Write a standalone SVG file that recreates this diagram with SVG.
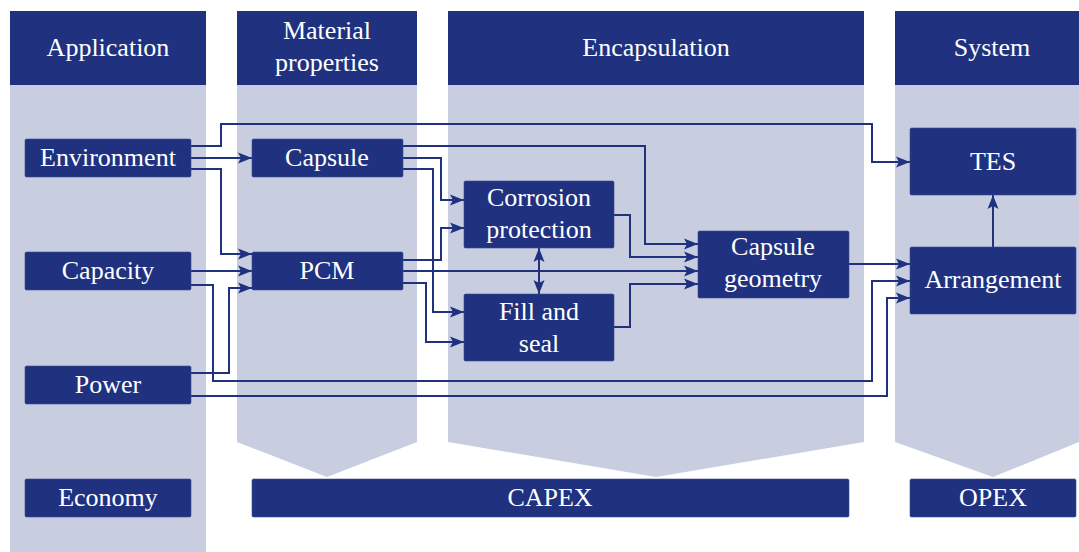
<svg xmlns="http://www.w3.org/2000/svg" width="1079" height="552" viewBox="0 0 1079 552" font-family="Liberation Serif, DejaVu Serif, serif">
<style>
.bg{fill:#c8cee0}
.hd{fill:#20327f}
.nd{fill:#20327f;stroke:#3a4b92;stroke-width:0.6}
.t{font-size:26px;fill:#ffffff;text-anchor:middle}
.c{fill:none;stroke:#20327f;stroke-width:2}
</style>
<defs>
<marker id="ah" markerUnits="userSpaceOnUse" markerWidth="16" markerHeight="14" refX="14" refY="6" orient="auto">
<path d="M0,0.5 L14,6 L0,11.5 L3,6 z" fill="#20327f"/>
</marker>
<marker id="as" markerUnits="userSpaceOnUse" markerWidth="16" markerHeight="14" refX="14" refY="6" orient="auto-start-reverse">
<path d="M0,0.5 L14,6 L0,11.5 L3,6 z" fill="#20327f"/>
</marker>
</defs>
<rect width="1079" height="552" fill="#ffffff"/>
<g id="columns">
<rect class="bg" x="10" y="85" width="196" height="467"/>
<polygon class="bg" points="237,85 417,85 417,442 327,477 237,442"/>
<polygon class="bg" points="448,85 864,85 864,442 656,477 448,442"/>
<polygon class="bg" points="895,85 1079,85 1079,442 993,477 895,442"/>
</g>
<g id="header-application"><rect class="hd" x="10" y="11" width="196" height="74"/><text class="t" x="108" y="56">Application</text></g>
<g id="header-material"><rect class="hd" x="237" y="11" width="180" height="74"/><text class="t" x="327" y="39">Material</text><text class="t" x="327" y="71">properties</text></g>
<g id="header-encapsulation"><rect class="hd" x="448" y="11" width="416" height="74"/><text class="t" x="656" y="56">Encapsulation</text></g>
<g id="header-system"><rect class="hd" x="895" y="11" width="184" height="74"/><text class="t" x="992" y="56">System</text></g>
<g id="connectors">
<path class="c" d="M191,146 H221 V124 H872 V162 H910" marker-end="url(#ah)"/>
<path class="c" d="M191,158 H252" marker-end="url(#ah)"/>
<path class="c" d="M191,169 H221 V254 H252" marker-end="url(#ah)"/>
<path class="c" d="M191,271 H252" marker-end="url(#ah)"/>
<path class="c" d="M191,285 H213 V381 H872 V281 H910" marker-end="url(#ah)"/>
<path class="c" d="M191,373 H229 V288 H252" marker-end="url(#ah)"/>
<path class="c" d="M191,396 H887 V298 H910" marker-end="url(#ah)"/>
<path class="c" d="M403,146 H645 V244 H698" marker-end="url(#ah)"/>
<path class="c" d="M403,158 H441 V200 H464" marker-end="url(#ah)"/>
<path class="c" d="M403,169 H433 V312 H464" marker-end="url(#ah)"/>
<path class="c" d="M403,260 H441 V228 H464" marker-end="url(#ah)"/>
<path class="c" d="M403,271 H698" marker-end="url(#ah)"/>
<path class="c" d="M403,283 H426 V342 H464" marker-end="url(#ah)"/>
<path class="c" d="M614,215 H630 V257 H698" marker-end="url(#ah)"/>
<path class="c" d="M614,327 H630 V284 H698" marker-end="url(#ah)"/>
<path class="c" d="M539,248 V294" marker-start="url(#as)" marker-end="url(#as)"/>
<path class="c" d="M849,264 H910" marker-end="url(#ah)"/>
<path class="c" d="M993,247 V195" marker-end="url(#ah)"/>
</g>
<g id="environment"><rect class="nd" x="25" y="139" width="166" height="38" rx="1.5"/><text class="t" x="108" y="166">Environment</text></g>
<g id="capacity"><rect class="nd" x="25" y="252" width="166" height="38" rx="1.5"/><text class="t" x="108" y="279">Capacity</text></g>
<g id="power"><rect class="nd" x="25" y="366" width="166" height="38" rx="1.5"/><text class="t" x="108" y="393">Power</text></g>
<g id="economy"><rect class="nd" x="25" y="479" width="166" height="38" rx="1.5"/><text class="t" x="108" y="506">Economy</text></g>
<g id="capsule"><rect class="nd" x="252" y="139" width="151" height="38" rx="1.5"/><text class="t" x="327" y="166">Capsule</text></g>
<g id="pcm"><rect class="nd" x="252" y="252" width="151" height="38" rx="1.5"/><text class="t" x="327" y="279">PCM</text></g>
<g id="corrosion"><rect class="nd" x="464" y="181" width="150" height="67" rx="1.5"/><text class="t" x="539" y="206">Corrosion</text><text class="t" x="539" y="238">protection</text></g>
<g id="fill"><rect class="nd" x="464" y="294" width="150" height="67" rx="1.5"/><text class="t" x="539" y="320">Fill and</text><text class="t" x="539" y="352">seal</text></g>
<g id="geometry"><rect class="nd" x="698" y="231" width="151" height="67" rx="1.5"/><text class="t" x="773" y="255">Capsule</text><text class="t" x="773" y="287">geometry</text></g>
<g id="tes"><rect class="nd" x="910" y="128" width="166" height="67" rx="1.5"/><text class="t" x="993" y="170">TES</text></g>
<g id="arrangement"><rect class="nd" x="910" y="247" width="166" height="67" rx="1.5"/><text class="t" x="993" y="288">Arrangement</text></g>
<g id="capex"><rect class="nd" x="252" y="479" width="597" height="38" rx="1.5"/><text class="t" x="550" y="506">CAPEX</text></g>
<g id="opex"><rect class="nd" x="910" y="479" width="166" height="38" rx="1.5"/><text class="t" x="993" y="506">OPEX</text></g>
</svg>
